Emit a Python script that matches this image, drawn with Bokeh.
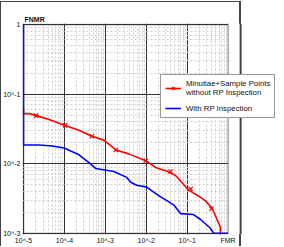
from bokeh.plotting import figure
from bokeh.models import FixedTicker, Legend, LegendItem, BoxAnnotation, Range1d, Span
from bokeh.embed import file_html
from bokeh.resources import INLINE

# ---- data ----
red_x = [1e-5, 1e-5, 1.46e-5, 2.04e-5, 4.22e-5, 1.04e-4, 2.27e-4, 4.70e-4, 9.2e-4, 1.22e-3,
         1.81e-3, 3.74e-3, 9.7e-3, 0.0170, 0.0333, 0.0521, 0.0772, 0.108, 0.189, 0.280,
         0.415, 0.549, 0.649, 0.649]
red_y = [0.0617, 0.0525, 0.0525, 0.0492, 0.0432, 0.0356, 0.0303, 0.0249, 0.0219, 0.0192,
         0.0158, 0.0139, 0.0111, 0.00885, 0.00777, 0.00682, 0.00527, 0.00420, 0.00346, 0.00294,
         0.00227, 0.00154, 0.00123, 0.00095]
red_mx = [2.04e-5, 1.04e-4, 4.70e-4, 1.81e-3, 9.7e-3, 0.0394, 0.121, 0.392]
red_my = [0.0492, 0.0356, 0.0249, 0.0158, 0.0111, 0.00777, 0.00434, 0.00227]

blue_x = [1e-5, 1e-5, 2.41e-5, 5.0e-5, 9.8e-5, 2.27e-4, 3.97e-4, 5.9e-4, 1.61e-3, 3.34e-3,
          4.18e-3, 5.86e-3, 0.0103, 0.0152, 0.0225, 0.0298, 0.0466, 0.0690, 0.143, 0.212,
          0.371, 0.439, 1.0]
blue_y = [1.0, 0.0186, 0.0186, 0.0180, 0.0169, 0.0135, 0.0104, 0.00855, 0.00776, 0.00639,
          0.00544, 0.00494, 0.00463, 0.00393, 0.00335, 0.00304, 0.00258, 0.00193, 0.00187, 0.00159,
          0.00119, 0.00101, 0.00101]

x_ticks = [1e-5, 1e-4, 1e-3, 1e-2, 1e-1, 1.0]
x_labels = ["10^-5", "10^-4", "10^-3", "10^-2", "10^-1", "FMR"]
y_ticks = [1e-3, 1e-2, 1e-1, 1.0]
y_labels = ["10^-3", "10^-2", "10^-1", "1"]
series_names = ["Minutiae+Sample Points\nwithout RP Inspection", "With RP Inspection"]
y_title = "FNMR"

FONT = "Liberation Sans"

# ---- layout geometry (pixels) ----
W, H = 276, 246
LEFT, TOP, BOTTOM = 21, 23, 10
KX = 41.08                       # px per decade on x
frame_h = H - TOP - BOTTOM
KY = (frame_h - 2) / 3.0         # px per decade on y
x_start = 10 ** (-5 - 1 / KX)
x_end = 10 ** (-5 + (W - LEFT - 1) / KX)
y_start = 10 ** (-3 - 1 / KY)
y_end = 10 ** (1 / KY)
outer_right = 10 ** (-5 + (219 - 1) / KX)

p = figure(width=W, height=H, x_axis_type="log", y_axis_type="log",
           x_range=Range1d(x_start, x_end), y_range=Range1d(y_start, y_end),
           output_backend="svg", toolbar_location=None,
           min_border_left=LEFT, min_border_right=0, min_border_top=TOP, min_border_bottom=BOTTOM)
p.border_fill_alpha = 0
p.background_fill_alpha = 0
p.outline_line_color = None
p.styles = {
    "background-image": "linear-gradient(#444,#444),linear-gradient(#444,#444),linear-gradient(#444,#444)",
    "background-size": "1px 100%, 241px 1px, 2px 100%",
    "background-position": "0px 1px, 0px 1px, 239px 1px",
    "background-repeat": "no-repeat",
}

p.title.text = y_title
p.title.align = "left"
p.title.offset = -5
p.title.standoff = 2
p.title.padding = (7, 0, 0, 0)
p.title.text_font = FONT
p.title.text_font_size = "7px"
p.title.text_font_style = "bold"
p.title.text_color = "#111111"

minor_x = [m * 10.0 ** d for d in range(-5, 0) for m in range(2, 10)]
minor_y = [m * 10.0 ** d for d in range(-3, 0) for m in range(2, 10)]
p.xaxis.ticker = FixedTicker(ticks=x_ticks, minor_ticks=minor_x)
p.yaxis.ticker = FixedTicker(ticks=y_ticks, minor_ticks=minor_y)
p.xaxis.major_label_overrides = dict(zip(x_ticks, x_labels))
p.yaxis.major_label_overrides = dict(zip(y_ticks, y_labels))

for ax in (p.xaxis, p.yaxis):
    ax.axis_line_color = None
    ax.major_tick_line_color = None
    ax.minor_tick_line_color = None
    ax.major_tick_out = 0
    ax.major_tick_in = 0
    ax.minor_tick_out = 0
    ax.minor_tick_in = 0
    ax.major_label_text_font = FONT
    ax.major_label_text_font_size = "7px"
    ax.major_label_text_color = "#111111"
    ax.major_label_standoff = 2

for g in (p.xgrid, p.ygrid):
    g.grid_line_color = "#333333"
    g.grid_line_width = 1
    g.minor_grid_line_color = "#cfcfcf"
    g.minor_grid_line_dash = "2 2"
    g.minor_grid_line_width = 1

r_line = p.line(red_x, red_y, line_color="#ff0000", line_width=1.6)
r_mark = p.scatter(red_mx, red_my, marker="x", size=6, line_color="#ff0000", line_width=1.2)
b_line = p.line(blue_x, blue_y, line_color="#0000ff", line_width=1.6)

# white area to the right of the plot box
p.add_layout(BoxAnnotation(left=1.0, fill_color="white", fill_alpha=1, line_color=None))
# plot box border
p.add_layout(BoxAnnotation(left=1e-5, right=1.0, bottom=1e-3, top=1.0,
                           fill_alpha=0, line_color="#333333", line_width=2))
# chart border on the right
p.add_layout(Span(location=outer_right, dimension="height", line_color="#444444", line_width=2))

legend = Legend(items=[LegendItem(label=series_names[0], renderers=[r_line, r_mark]),
                       LegendItem(label=series_names[1], renderers=[b_line])])
legend.location = (138, (H - BOTTOM) - 120)
legend.label_text_font = FONT
legend.label_text_font_size = "7.8px"
legend.label_text_color = "#111111"
legend.label_text_line_height = 1.25
legend.border_line_color = "#333333"
legend.border_line_width = 1
legend.background_fill_color = "white"
legend.background_fill_alpha = 1
legend.glyph_width = 16
legend.glyph_height = 10
legend.label_standoff = 5
legend.padding = 4
legend.spacing = 6
legend.margin = 0
p.add_layout(legend, "center")

open("out.html", "w").write(file_html(p, INLINE))
